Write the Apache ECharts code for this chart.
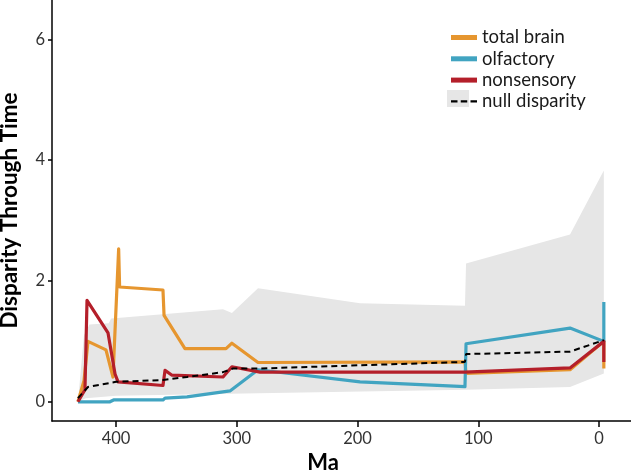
<!DOCTYPE html>
<html>
<head>
<meta charset="utf-8">
<script src="https://cdn.jsdelivr.net/npm/echarts@6/dist/echarts.min.js"></script>
<style>
html,body{margin:0;padding:0;background:#fff;}
#chart{width:631px;height:472px;}
</style>
</head>
<body>
<div id="chart"></div>
<script>
// ---- data (Ma, disparity) ----
const xTicks = [0, 100, 200, 300, 400];
const yTicks = [0, 2, 4, 6];

const totalBrain = [
  [431.5, 0.0], [426.5, 0.35], [423.2, 1.0], [408.3, 0.86], [402.5, 0.41],
  [397.8, 2.53], [397.0, 1.9], [361.1, 1.85], [360.2, 1.43], [342.9, 0.88],
  [308.9, 0.88], [304.0, 0.97], [282.4, 0.65], [111.0, 0.66], [110.1, 0.47],
  [24.0, 0.53], [-4.0, 1.0], [-4.0, 0.55]
];
const olfactory = [
  [431.5, 0.0], [405.0, 0.0], [402.0, 0.03], [361.1, 0.03], [359.4, 0.06],
  [341.2, 0.08], [305.6, 0.18], [282.4, 0.53], [197.9, 0.33], [111.0, 0.25],
  [110.1, 0.96], [24.0, 1.22], [-4.0, 1.0], [-4.0, 1.65]
];
const nonsensory = [
  [431.5, 0.0], [425.7, 0.2], [424.0, 1.68], [406.6, 1.14], [400.8, 0.46],
  [398.3, 0.33], [361.1, 0.27], [359.4, 0.52], [353.6, 0.44], [311.4, 0.41],
  [304.0, 0.58], [280.7, 0.49], [111.0, 0.49], [24.0, 0.56], [-4.0, 1.0],
  [-4.0, 0.66]
];
const nullDisparity = [
  [431.5, 0.06], [423.2, 0.245], [400.0, 0.33], [361.1, 0.36], [341.2, 0.41],
  [311.4, 0.49], [303.1, 0.55], [282.4, 0.55], [111.0, 0.66], [110.1, 0.79],
  [24.0, 0.83], [-4.0, 1.02]
];
const envelopeUpper = [
  [431.5, 0.0], [426.5, 1.1], [422.0, 1.28], [406.0, 1.3], [404.0, 1.38],
  [311.4, 1.53], [304.0, 1.47], [282.4, 1.88], [197.9, 1.63], [111.0, 1.59],
  [110.1, 2.29], [24.0, 2.77], [-4.0, 3.83]
];
const envelopeLower = [
  [-4.0, 0.47], [24.0, 0.245], [110.1, 0.2], [282.4, 0.14], [400.0, 0.1],
  [425.0, 0.06], [431.5, 0.0]
];

const colors = {
  total: '#E6962F',
  olf: '#41A4C1',
  non: '#B41F2A',
  nul: '#000000',
  env: '#E6E6E6'
};
const FONT = 'Lato';

const chart = echarts.init(document.getElementById('chart'), null, {renderer: 'canvas'});

function lineSeries(name, data, color, z) {
  return {
    name: name, type: 'line', data: data, showSymbol: false, symbol: 'none',
    lineStyle: {color: color, width: 3.2, join: 'round'},
    itemStyle: {color: color}, z: z, animation: false, clip: true
  };
}

const option = {
  animation: false,
  grid: {left: 52, right: 0, top: 0, bottom: 51, containLabel: false, outerBoundsMode: 'none'},
  legend: {
    orient: 'vertical', left: 446, top: 23, itemWidth: 26, itemHeight: 5, itemGap: 2.3,
    textStyle: {fontFamily: FONT, fontSize: 18.5, color: '#1a1a1a'},
    data: [
      {name: 'total brain', icon: 'rect'},
      {name: 'olfactory', icon: 'rect'},
      {name: 'nonsensory', icon: 'rect'},
      {name: 'null disparity', icon: 'path://M0,0h6v2h-6z M9,0h6v2h-6z M18,0h6v2h-6z'}
    ],
    selectedMode: false, z: 5
  },
  graphic: [{
    type: 'rect', left: 447, top: 90, shape: {width: 22, height: 17},
    style: {fill: colors.env}, z: 0, silent: true
  }],
  xAxis: {
    type: 'value', inverse: true, min: -26.5, max: 453,
    axisLine: {onZero: false, lineStyle: {color: '#000', width: 1.5}},
    axisTick: {customValues: xTicks, length: 6, lineStyle: {color: '#000', width: 1.5}},
    axisLabel: {customValues: xTicks, margin: 9, fontFamily: FONT, fontSize: 16.5, color: '#333'},
    splitLine: {show: false},
    name: 'Ma', nameLocation: 'middle', nameGap: 28,
    nameTextStyle: {fontFamily: FONT, fontWeight: 'bold', fontSize: 22, color: '#000', padding: [0, 37, 0, 0]}
  },
  yAxis: {
    type: 'value', min: -0.318, max: 6.65,
    axisLine: {onZero: false, lineStyle: {color: '#000', width: 1.5}},
    axisTick: {customValues: yTicks, length: 4, lineStyle: {color: '#000', width: 1.5}},
    axisLabel: {customValues: yTicks, margin: 7, fontFamily: FONT, fontSize: 16.5, color: '#333'},
    splitLine: {show: false},
    name: 'Disparity Through Time', nameLocation: 'middle', nameGap: 31,
    nameTextStyle: {fontFamily: FONT, fontWeight: 'bold', fontSize: 22.5, color: '#000'}
  },
  series: [
    {
      name: 'envelope', type: 'custom', coordinateSystem: 'cartesian2d', clip: true, silent: true, z: 1,
      data: [[0, 0]],
      renderItem: function (params, api) {
        const pts = envelopeUpper.concat(envelopeLower).map(p => api.coord(p));
        return {type: 'polygon', shape: {points: pts}, style: {fill: colors.env, stroke: null}};
      }
    },
    lineSeries('total brain', totalBrain, colors.total, 2),
    lineSeries('olfactory', olfactory, colors.olf, 3),
    lineSeries('nonsensory', nonsensory, colors.non, 4),
    {
      name: 'null disparity', type: 'line', data: nullDisparity, showSymbol: false, symbol: 'none',
      lineStyle: {color: '#000', width: 2, type: [6, 4]}, itemStyle: {color: '#000'}, z: 5, clip: true
    }
  ]
};
chart.setOption(option);
</script>
</body>
</html>
